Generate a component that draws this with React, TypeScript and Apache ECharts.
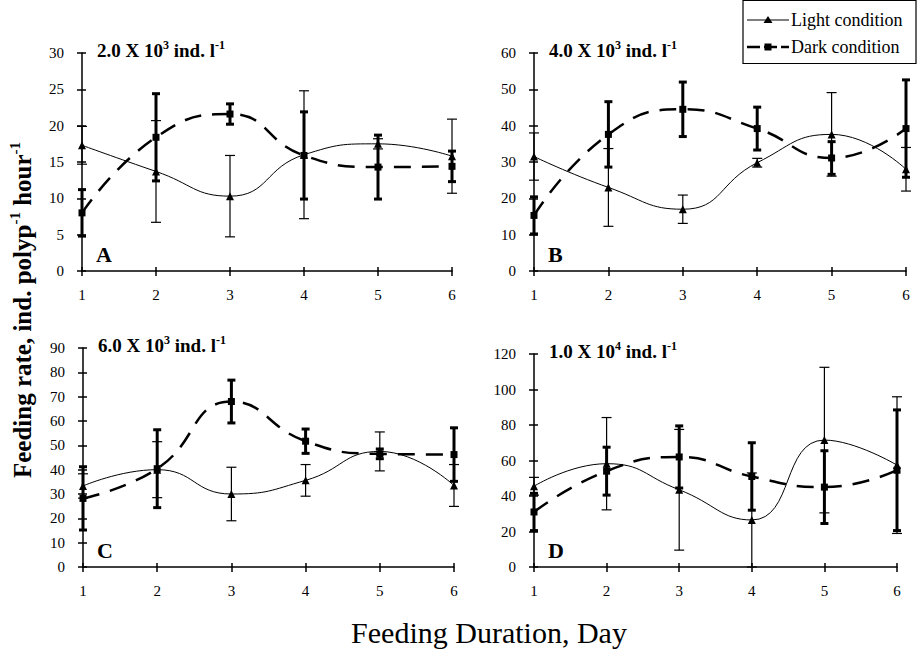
import React, { useEffect, useRef } from "react";
import * as echarts from "echarts";

// ---------- data ----------
const days = [1, 2, 3, 4, 5, 6];

const lightA = [17.3, 13.7, 10.3, 16.0, 17.5, 15.8];
const lightAErr = [2.6, 7.0, 5.6, 8.8, 0.7, 5.1];
const darkA = [8.0, 18.4, 21.6, 15.9, 14.3, 14.4];
const darkAErr = [3.2, 6.0, 1.4, 6.0, 4.4, 2.1];

const lightB = [31.5, 23.0, 17.0, 29.8, 37.6, 28.0];
const lightBErr = [6.5, 10.7, 3.9, 1.2, 11.5, 6.0];
const darkB = [15.3, 37.6, 44.5, 39.2, 31.1, 39.2];
const darkBErr = [5.1, 9.0, 7.5, 5.9, 4.5, 13.4];

const lightC = [33.3, 40.0, 30.0, 35.6, 47.5, 33.5];
const lightCErr = [5.0, 11.5, 11.0, 6.5, 8.0, 8.6];
const darkC = [28.2, 40.4, 68.0, 51.7, 46.5, 46.2];
const darkCErr = [13.0, 16.0, 8.8, 5.0, 2.0, 11.0];

const lightD = [45.5, 58.2, 43.5, 26.5, 71.5, 57.4];
const lightDErr = [5.0, 26.0, 34.0, 26.5, 41.0, 38.5];
const darkD = [31.0, 54.0, 62.0, 51.0, 45.0, 54.5];
const darkDErr = [10.5, 13.5, 17.5, 19.0, 20.5, 34.0];

const yMax = [30, 60, 90, 120];
const yStep = [5, 10, 10, 20];
const panelLetters = ["A", "B", "C", "D"];
const panelConc = [
  ["2.0 X 10", "3"],
  ["4.0 X 10", "3"],
  ["6.0 X 10", "3"],
  ["1.0 X 10", "4"],
];
const legendLabels = ["Light condition", "Dark condition"];
const xTitle = "Feeding Duration, Day";
const yTitleParts = ["Feeding rate, ind. polyp", "-1", " hour", "-1"];

// ---------- layout ----------
const FONT = '"Liberation Serif", "Times New Roman", serif';
const grids = [
  { left: 82, top: 53, width: 370, height: 218 },
  { left: 534, top: 53, width: 372, height: 218 },
  { left: 83, top: 348, width: 371, height: 219 },
  { left: 534, top: 354, width: 363, height: 213 },
];

const lights = [lightA, lightB, lightC, lightD];
const lightErrs = [lightAErr, lightBErr, lightCErr, lightDErr];
const darks = [darkA, darkB, darkC, darkD];
const darkErrs = [darkAErr, darkBErr, darkCErr, darkDErr];

function errSeries(idx: number, vals: number[], errs: number[], thick: boolean) {
  return {
    type: "custom",
    xAxisIndex: idx,
    yAxisIndex: idx,
    z: 5,
    clip: false,
    encode: { x: 0, y: [1, 2] },
    data: days.map((d, i) => [d, Math.max(0, vals[i] - errs[i]), vals[i] + errs[i]]),
    renderItem: (params: any, api: any) => {
      const lo = api.coord([api.value(0), api.value(1)]);
      const hi = api.coord([api.value(0), api.value(2)]);
      const lw = thick ? 3 : 1.2;
      const w = thick ? 4 : 5;
      const st = { stroke: "#000", lineWidth: lw };
      return {
        type: "group",
        children: [
          { type: "line", shape: { x1: lo[0], y1: lo[1], x2: hi[0], y2: hi[1] }, style: st },
          { type: "line", shape: { x1: lo[0] - w, y1: lo[1], x2: lo[0] + w, y2: lo[1] }, style: st },
          { type: "line", shape: { x1: hi[0] - w, y1: hi[1], x2: hi[0] + w, y2: hi[1] }, style: st },
        ],
      };
    },
  };
}

export default function App() {
  const ref = useRef<HTMLDivElement>(null);
  useEffect(() => {
    if (!ref.current) return;
    const chart = echarts.init(ref.current, null, { renderer: "svg" });

    const mkX = (i: number, inside: boolean) => ({
      type: "value",
      gridIndex: i,
      position: "bottom",
      offset: 0,
      min: 1,
      max: 6,
      interval: 1,
      axisLine: { show: !inside, onZero: false, lineStyle: { color: "#000", width: 1.5 } },
      axisTick: { show: true, inside, length: inside ? 4 : 5, lineStyle: { color: "#000", width: 1.5 } },
      axisLabel: { show: !inside, color: "#000", fontSize: 15, fontFamily: FONT, margin: 16 },
      splitLine: { show: false },
    });
    const mkY = (i: number, inside: boolean) => ({
      type: "value",
      gridIndex: i,
      position: "left",
      offset: 0,
      min: 0,
      max: yMax[i],
      interval: yStep[i],
      axisLine: { show: !inside, onZero: false, lineStyle: { color: "#000", width: 1.5 } },
      axisTick: { show: true, inside, length: inside ? 4 : 5, lineStyle: { color: "#000", width: 1.5 } },
      axisLabel: { show: !inside, color: "#000", fontSize: 15, fontFamily: FONT, margin: 18 },
      splitLine: { show: false },
    });
    const xAxis = [...grids.map((_, i) => mkX(i, false)), ...grids.map((_, i) => mkX(i, true))];
    const yAxis = [...grids.map((_, i) => mkY(i, false)), ...grids.map((_, i) => mkY(i, true))];

    const series: any[] = [];
    grids.forEach((_, i) => {
      series.push({
        type: "line",
        name: legendLabels[0],
        xAxisIndex: i,
        yAxisIndex: i,
        data: days.map((d, k) => [d, lights[i][k]]),
        smooth: 0.5,
        clip: false,
        symbol: "triangle",
        symbolSize: 8,
        lineStyle: { color: "#000", width: 1 },
        itemStyle: { color: "#000" },
        z: 3,
      });
      series.push({
        type: "line",
        name: legendLabels[1],
        xAxisIndex: i,
        yAxisIndex: i,
        data: days.map((d, k) => [d, darks[i][k]]),
        smooth: 0.5,
        clip: false,
        symbol: "rect",
        symbolSize: 7,
        lineStyle: { color: "#000", width: 2.5, type: [17, 11] },
        itemStyle: { color: "#000" },
        z: 3,
      });
      series.push(errSeries(i, lights[i], lightErrs[i], false));
      series.push(errSeries(i, darks[i], darkErrs[i], true));
    });

    const graphic: any[] = [];
    grids.forEach((g, i) => {
      graphic.push({
        type: "text",
        x: g.left + 15,
        y: g.top - 3,
        style: {
          text: `{b|${panelConc[i][0]}}{s|${panelConc[i][1]}}{b| ind. l}{s|-1}`,
          textVerticalAlign: "middle",
          rich: {
            b: { fontFamily: FONT, fontSize: 19, fontWeight: "bold", fill: "#000", lineHeight: 22 },
            s: { fontFamily: FONT, fontSize: 12, fontWeight: "bold", fill: "#000", verticalAlign: "top", lineHeight: 22 },
          },
        },
      });
      graphic.push({
        type: "text",
        x: g.left + 14,
        y: g.top + g.height - 17,
        style: {
          text: panelLetters[i],
          font: `bold 22px ${FONT}`,
          fill: "#000",
          textVerticalAlign: "middle",
        },
      });
    });

    // y title
    graphic.push({
      type: "text",
      x: 22,
      y: 310,
      rotation: Math.PI / 2,
      style: {
        text: `{b|${yTitleParts[0]}}{s|${yTitleParts[1]}}{b|${yTitleParts[2]}}{s|${yTitleParts[3]}}`,
        textAlign: "center",
        textVerticalAlign: "middle",
        rich: {
          b: { fontFamily: FONT, fontSize: 25, fontWeight: "bold", fill: "#000", lineHeight: 30 },
          s: { fontFamily: FONT, fontSize: 15, fontWeight: "bold", fill: "#000", verticalAlign: "top", lineHeight: 30 },
        },
      },
    });
    // x title
    graphic.push({
      type: "text",
      x: 489,
      y: 632,
      style: {
        text: xTitle,
        font: `30px ${FONT}`,
        fill: "#000",
        textAlign: "center",
        textVerticalAlign: "middle",
      },
    });

    // legend
    const lx = 743;
    graphic.push({
      type: "rect",
      shape: { x: lx, y: 0.5, width: 173, height: 63 },
      style: { fill: "#fff", stroke: "#000", lineWidth: 1.2 },
      z: 10,
    });
    graphic.push({
      type: "line",
      shape: { x1: lx + 4, y1: 20, x2: lx + 46, y2: 20 },
      style: { stroke: "#000", lineWidth: 1.2 },
      z: 11,
    });
    graphic.push({
      type: "polygon",
      shape: { points: [[lx + 25, 16], [lx + 29.5, 23], [lx + 20.5, 23]] },
      style: { fill: "#000" },
      z: 11,
    });
    graphic.push({
      type: "line",
      shape: { x1: lx + 4, y1: 47, x2: lx + 46, y2: 47 },
      style: { stroke: "#000", lineWidth: 2.5, lineDash: [13, 4] },
      z: 11,
    });
    graphic.push({
      type: "rect",
      shape: { x: lx + 21.5, y: 43.5, width: 7, height: 7 },
      style: { fill: "#000" },
      z: 11,
    });
    graphic.push({
      type: "text",
      x: lx + 48,
      y: 20,
      style: { text: legendLabels[0], font: `18px ${FONT}`, fill: "#000", textVerticalAlign: "middle" },
      z: 11,
    });
    graphic.push({
      type: "text",
      x: lx + 48,
      y: 47,
      style: { text: legendLabels[1], font: `18px ${FONT}`, fill: "#000", textVerticalAlign: "middle" },
      z: 11,
    });

    chart.setOption({
      animation: false,
      backgroundColor: "#fff",
      grid: grids.map((g) => ({ ...g, containLabel: false })),
      xAxis,
      yAxis,
      series,
      graphic,
    });
    return () => chart.dispose();
  }, []);
  return (
    <div
      ref={ref}
      style={{ position: "fixed", left: 0, top: 0, width: 918, height: 651, background: "#fff" }}
    />
  );
}
